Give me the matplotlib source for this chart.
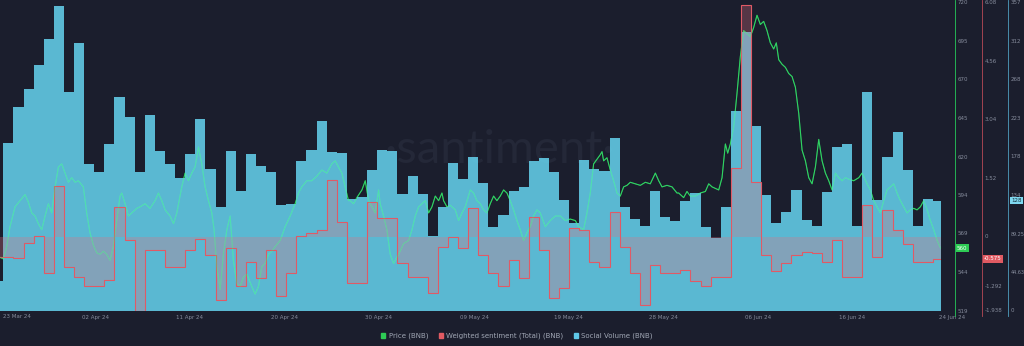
import matplotlib.pyplot as plt
from matplotlib.lines import Line2D
from matplotlib.patches import Patch
from matplotlib.transforms import blended_transform_factory
import numpy as np

# BNB, 23 Mar 24 -> 24 Jun 24. one bar / sentiment step per day, day 0 = 23 Mar
social_volume = [35, 195, 237, 257, 285, 315, 353, 254, 311, 170,
                 161, 193, 248, 225, 161, 227, 185, 170, 154, 182,
                 222, 165, 121, 186, 139, 182, 168, 161, 123, 124,
                 174, 187, 220, 184, 183, 130, 132, 164, 187, 186,
                 136, 156, 136, 87, 121, 172, 153, 178, 148, 97,
                 111, 139, 144, 174, 177, 161, 129, 102, 175, 165,
                 162, 201, 120, 107, 98, 139, 109, 104, 128, 137,
                 97, 85, 120, 232, 323, 214, 135, 102, 115, 140,
                 106, 98, 138, 190, 193, 99, 254, 129, 178, 208,
                 164, 99, 130, 128]

sentiment = [-0.52, -0.52, -0.56, -0.18, 0.02, -0.95, 1.32, -0.80, -1.06, -1.30,
             -1.30, -1.12, 0.78, -0.08, -1.94, -0.35, -0.35, -0.78, -0.78, -0.35,
             -0.07, -0.48, -1.65, -0.30, -1.30, -0.65, -1.09, -0.35, -1.56, -0.95,
             0.02, 0.09, 0.17, 1.48, 0.39, -1.22, -1.22, 0.91, 0.48, 0.48,
             -0.69, -1.04, -1.04, -1.48, -0.26, 0.0, -0.30, 0.74, -0.48, -0.95,
             -1.30, -0.61, -1.09, 0.52, -0.35, -1.60, -1.35, 0.22, 0.17, -0.65,
             -0.78, 0.65, -0.26, -0.95, -1.78, -0.74, -0.94, -0.94, -0.87, -1.17,
             -1.30, -1.04, -1.04, 1.78, 6.03, 1.43, -0.48, -0.89, -0.69, -0.48,
             -0.39, -0.43, -0.65, -0.09, -1.04, -1.04, 0.82, -0.52, 0.69, 0.17,
             -0.20, -0.65, -0.65, -0.575]

# price samples: days since 23 Mar 00:00, price in USD
price_day = [0.67, 1.00, 1.33, 1.66, 2.16, 2.65, 3.15, 3.48, 3.81, 4.14,
             4.47, 4.80, 5.13, 5.46, 5.79, 6.12, 6.45, 6.78, 7.11, 7.44,
             7.77, 8.10, 8.43, 8.92, 9.25, 9.58, 9.91, 10.24, 10.57, 10.90,
             11.23, 11.56, 11.89, 12.22, 12.55, 12.72, 13.05, 13.38, 13.71, 14.21,
             14.53, 15.03, 15.52, 16.02, 16.35, 16.68, 17.01, 17.50, 17.84, 18.17,
             18.66, 18.99, 19.32, 19.65, 19.98, 20.31, 20.64, 20.97, 21.30, 21.63,
             21.86, 22.12, 22.46, 22.78, 23.12, 23.45, 23.77, 24.11, 24.44, 24.76,
             25.10, 25.59, 25.92, 26.25, 26.58, 26.91, 27.24, 27.57, 27.90, 28.40,
             28.89, 29.39, 29.88, 30.21, 30.54, 31.04, 31.53, 32.03, 32.52, 33.02,
             33.51, 33.84, 34.17, 34.50, 34.83, 35.16, 35.33, 35.66, 35.99, 36.49,
             36.82, 37.15, 37.48, 37.81, 38.14, 38.30, 38.63, 38.96, 39.29, 39.62,
             39.95, 40.28, 40.61, 41.11, 41.44, 41.77, 42.10, 42.43, 42.76, 43.09,
             43.42, 43.75, 44.08, 44.41, 44.57, 44.90, 45.23, 45.73, 46.06, 46.39,
             46.72, 47.21, 47.54, 47.87, 48.20, 48.53, 48.86, 49.19, 49.52, 49.85,
             50.18, 50.51, 50.84, 51.17, 51.50, 51.83, 52.16, 52.49, 52.82, 53.15,
             53.48, 53.81, 54.14, 54.64, 55.13, 55.63, 56.12, 56.62, 57.11, 57.61,
             57.94, 58.43, 58.76, 59.09, 59.42, 59.75, 60.08, 60.25, 60.41, 60.74,
             61.07, 61.40, 61.73, 62.06, 62.39, 62.72, 63.05, 63.55, 64.04, 64.54,
             65.03, 65.53, 65.86, 66.19, 66.68, 67.18, 67.67, 67.84, 68.33, 68.66,
             68.99, 69.49, 69.98, 70.48, 70.81, 71.14, 71.47, 71.80, 72.13, 72.46,
             72.69, 72.95, 73.28, 73.61, 73.94, 74.27, 74.60, 74.93, 75.26, 75.59,
             75.92, 76.25, 76.58, 76.91, 77.24, 77.50, 77.74, 78.07, 78.40, 78.73,
             79.06, 79.39, 79.72, 80.05, 80.38, 80.71, 81.04, 81.37, 81.70, 82.03,
             82.36, 82.69, 83.02, 83.35, 83.68, 84.01, 84.34, 84.67, 85.16, 85.66,
             85.99, 86.48, 86.81, 87.14, 87.47, 87.80, 88.13, 88.46, 88.79, 89.12,
             89.45, 89.78, 90.11, 90.44, 90.77, 91.10, 91.43, 91.76, 92.09, 92.43,
             92.75, 93.08, 93.42, 93.75]
price_val = [554, 553, 561, 574, 587, 591, 595, 590, 583, 581,
             576, 572, 581, 589, 583, 600, 613, 615, 609, 603,
             606, 603, 604, 600, 583, 570, 562, 557, 556, 558,
             556, 552, 561, 578, 594, 596, 589, 581, 583, 586,
             587, 589, 586, 591, 596, 591, 585, 581, 576, 583,
             600, 609, 604, 609, 613, 626, 615, 600, 591, 583,
             572, 548, 533, 556, 572, 581, 552, 537, 535, 541,
             543, 535, 530, 535, 548, 550, 556, 558, 561, 565,
             574, 581, 589, 596, 600, 604, 604, 607, 611, 609,
             615, 617, 613, 609, 600, 591, 591, 589, 593, 598,
             604, 591, 587, 583, 598, 589, 581, 572, 556, 550,
             554, 558, 563, 565, 572, 581, 587, 589, 591, 583,
             587, 594, 591, 596, 591, 587, 588, 585, 578, 583,
             587, 598, 596, 591, 589, 585, 583, 589, 594, 591,
             594, 598, 596, 591, 585, 578, 572, 565, 570, 574,
             581, 585, 583, 574, 578, 581, 581, 578, 579, 578,
             574, 572, 583, 596, 615, 618, 621, 623, 617, 619,
             611, 604, 596, 594, 600, 601, 603, 602, 601, 603,
             602, 609, 604, 600, 601, 600, 596, 596, 593, 597,
             594, 594, 596, 597, 602, 600, 599, 598, 606, 628,
             622, 628, 639, 661, 685, 702, 700, 698, 704, 712,
             706, 708, 702, 694, 690, 694, 683, 680, 678, 674,
             672, 665, 648, 624, 617, 606, 602, 613, 631, 617,
             609, 604, 598, 609, 606, 604, 606, 605, 604, 606,
             609, 602, 598, 591, 587, 583, 591, 598, 600, 602,
             596, 591, 587, 583, 585, 586, 585, 587, 591, 585,
             578, 572, 565, 560]

date_labels = ["23 Mar 24", "02 Apr 24", "11 Apr 24", "20 Apr 24", "30 Apr 24", "09 May 24",
               "19 May 24", "28 May 24", "06 Jun 24", "16 Jun 24", "24 Jun 24"]
date_pos = [0.97, 10.08, 19.39, 28.79, 38.1, 47.6, 56.9, 66.3, 75.7, 85.0, 94.9]

price_ticks = [519, 544.1, 569.3, 594.4, 619.5, 644.6, 669.8, 694.9, 720]
price_tick_labels = ["519", "544", "569", "594", "620", "645", "670", "695", "720"]
sent_ticks = [-1.938, -1.292, 0, 1.52, 3.04, 4.56, 6.08]
sent_tick_labels = ["-1.938", "-1.292", "0", "1.52", "3.04", "4.56", "6.08"]
vol_ticks = [0, 44.63, 89.25, 133.9, 178.5, 223.1, 267.8, 312.4, 357]
vol_tick_labels = ["0", "44.63", "89.25", "134", "178", "223", "268", "312", "357"]

BG = "#1b1e2d"
TXT = "#868c9c"
GREEN = "#26c95a"
RED = "#e05a66"
BAR = "#6ae0fc"
BLUE_AX = "#4f9fbf"

W, H = 1024, 346
fig = plt.figure(figsize=(W / 100, H / 100), dpi=100, facecolor=BG)
ax_p = fig.add_axes([0, (H - 311) / H, 941 / W, 308 / H])
ax_v = ax_p.twinx()
ax_s = ax_p.twinx()
ax_top = ax_p.twinx()   # faint copy of the price line over the bars
ax_p.set_facecolor(BG)
for a in (ax_p, ax_v, ax_s, ax_top):
    a.set_xlim(0.67, 93.8)
    for sp in a.spines.values():
        sp.set_visible(False)
    a.set_xticks([])
    a.set_yticks([])

# watermark sits under everything
ax_p.text(500 / 941, 1 - 147 / 308, "·santiment·", transform=ax_p.transAxes,
          ha="center", va="center", fontsize=34, color="#242838", family="Lato", zorder=0)

ax_p.plot(price_day, price_val, color=GREEN, lw=0.8, zorder=2)
ax_p.set_ylim(519, 720)

days = np.arange(len(social_volume))
ax_v.bar(days, social_volume, width=1, align="edge", color=BAR, alpha=0.8, linewidth=0)
ax_v.set_ylim(0, 357)

edges = np.arange(len(sentiment) + 1)
ax_s.stairs(sentiment, edges, baseline=0, fill=True, color="#e07080", alpha=0.3, lw=0)
ax_s.stairs(sentiment, edges, baseline=None, color=RED, lw=0.8)
ax_s.set_ylim(-1.938, 6.08)

ax_top.plot(price_day, price_val, color="#3fe070", lw=0.7, alpha=0.45)
ax_top.set_ylim(519, 720)

# x labels
tx = blended_transform_factory(ax_p.transData, fig.transFigure)
for pos, lab in zip(date_pos, date_labels):
    ha = "left" if pos == date_pos[0] else "center"
    ax_p.text(pos, 1 - 317 / H, lab, transform=tx, ha=ha, va="center",
              fontsize=4, color=TXT, clip_on=False)

# right hand axes
axes_spec = [(ax_p, 955, GREEN, price_ticks, price_tick_labels),
             (ax_s, 982, "#b84a56", sent_ticks, sent_tick_labels),
             (ax_v, 1008, BLUE_AX, vol_ticks, vol_tick_labels)]
for a, xpx, col, ticks, labels in axes_spec:
    fig.add_artist(Line2D([xpx / W, xpx / W], [1 - 316 / H, 1], transform=fig.transFigure,
                          color=col, lw=0.6))
    ty = blended_transform_factory(fig.transFigure, a.transData)
    for t, lab in zip(ticks, labels):
        size = 3.5 if len(lab) > 4 and a is ax_v else 4
        a.text((xpx + 2.5) / W, t, lab, transform=ty, ha="left", va="center",
               fontsize=size, color=TXT, clip_on=False)

# last-value badges
badges = [(ax_p, 957, price_val[-1], "560", "#2ecc55", "white"),
          (ax_s, 984, sentiment[-1], "-0.575", "#e05a62", "white"),
          (ax_v, 1011, social_volume[-1], "128", "#7fd8f0", "#17303c")]
for a, xpx, val, lab, fc, tc in badges:
    ty = blended_transform_factory(fig.transFigure, a.transData)
    a.text(xpx / W, val, lab, transform=ty, ha="left", va="center", fontsize=4,
           color=tc, clip_on=False, zorder=10,
           bbox=dict(boxstyle="square,pad=0.25", fc=fc, ec="none"))

handles = [Patch(color="#2ecc55", label="Price (BNB)"),
           Patch(color="#e05a62", label="Weighted sentiment (Total) (BNB)"),
           Patch(color="#5fc8e8", label="Social Volume (BNB)")]
fig.legend(handles=handles, loc="center", bbox_to_anchor=(517 / W, 1 - 336 / H), ncol=3,
           frameon=False, fontsize=5, labelcolor="#a0a6b4", handlelength=0.6,
           handleheight=0.6, handletextpad=0.5, columnspacing=1.5)

fig.savefig("out.png", dpi=100, facecolor=BG)
